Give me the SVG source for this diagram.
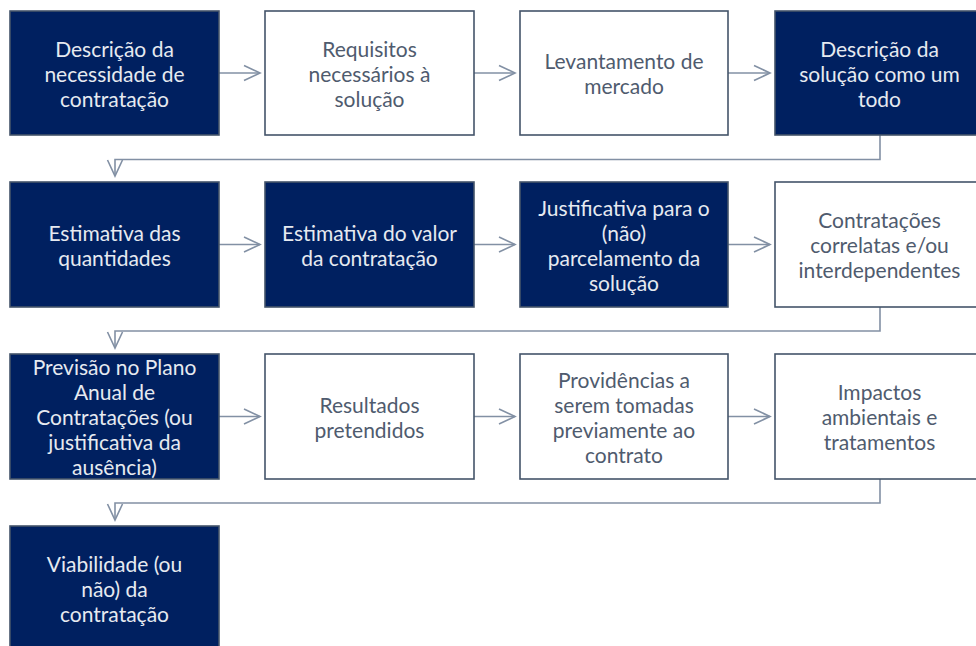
<svg xmlns="http://www.w3.org/2000/svg" width="976" height="646" viewBox="0 0 976 646">
<style>
.d rect{fill:#002060;stroke:#44546A;stroke-width:1.6}
.w rect{fill:#ffffff;stroke:#44546A;stroke-width:1.6}
text{font-family:Lato,"Liberation Sans",sans-serif;font-size:21px;text-anchor:middle;dominant-baseline:central}
.d text{fill:#E6EAF0}
.w text{fill:#4F5B6E}
.c path{fill:none;stroke:#8290A4;stroke-width:1.6;marker-end:url(#a)}
</style>
<defs>
<marker id="a" viewBox="0 0 20 20" refX="18" refY="10" markerWidth="20" markerHeight="20" markerUnits="userSpaceOnUse" orient="auto">
<path d="M2,2.5 L18,10 L2,17.5" fill="none" stroke="#8290A4" stroke-width="1.6"/>
</marker>
</defs>
<rect width="976" height="646" fill="#ffffff"/>
<g class="c" id="connectors">
<path d="M219,73 H260"/>
<path d="M474,73 H515"/>
<path d="M728,73 H770"/>
<path d="M880,135 V159.5 H115 V176"/>
<path d="M219,244.5 H260"/>
<path d="M474,244.5 H515"/>
<path d="M728,244.5 H770"/>
<path d="M880,307 V331 H115 V348"/>
<path d="M219,416.5 H260"/>
<path d="M474,416.5 H515"/>
<path d="M728,416.5 H770"/>
<path d="M880,479 V503 H115 V520"/>
</g>
<g id="n1" class="d"><rect x="10" y="11" width="209" height="124"/><text x="114.5" y="48">Descrição da</text><text x="114.5" y="73">necessidade de</text><text x="114.5" y="98">contratação</text></g>
<g id="n2" class="w"><rect x="265" y="11" width="209" height="124"/><text x="369.5" y="48">Requisitos</text><text x="369.5" y="73">necessários à</text><text x="369.5" y="98">solução</text></g>
<g id="n3" class="w"><rect x="520" y="11" width="208" height="124"/><text x="624" y="60.5">Levantamento de</text><text x="624" y="85.5">mercado</text></g>
<g id="n4" class="d"><rect x="775" y="11" width="209" height="124"/><text x="879.5" y="48">Descrição da</text><text x="879.5" y="73">solução como um</text><text x="879.5" y="98">todo</text></g>
<g id="n5" class="d"><rect x="10" y="182" width="209" height="125"/><text x="114.5" y="232">Estimativa das</text><text x="114.5" y="257">quantidades</text></g>
<g id="n6" class="d"><rect x="265" y="182" width="209" height="125"/><text x="369.5" y="232">Estimativa do valor</text><text x="369.5" y="257">da contratação</text></g>
<g id="n7" class="d"><rect x="520" y="182" width="208" height="125"/><text x="624" y="207">Justificativa para o</text><text x="624" y="232">(não)</text><text x="624" y="257">parcelamento da</text><text x="624" y="282">solução</text></g>
<g id="n8" class="w"><rect x="775" y="182" width="209" height="125"/><text x="879.5" y="219.5">Contratações</text><text x="879.5" y="244.5">correlatas e/ou</text><text x="879.5" y="269.5">interdependentes</text></g>
<g id="n9" class="d"><rect x="10" y="354" width="209" height="125"/><text x="114.5" y="366.5">Previsão no Plano</text><text x="114.5" y="391.5">Anual de</text><text x="114.5" y="416.5">Contratações (ou</text><text x="114.5" y="441.5">justificativa da</text><text x="114.5" y="466.5">ausência)</text></g>
<g id="n10" class="w"><rect x="265" y="354" width="209" height="125"/><text x="369.5" y="404">Resultados</text><text x="369.5" y="429">pretendidos</text></g>
<g id="n11" class="w"><rect x="520" y="354" width="208" height="125"/><text x="624" y="379">Providências a</text><text x="624" y="404">serem tomadas</text><text x="624" y="429">previamente ao</text><text x="624" y="454">contrato</text></g>
<g id="n12" class="w"><rect x="775" y="354" width="209" height="125"/><text x="879.5" y="391.5">Impactos</text><text x="879.5" y="416.5">ambientais e</text><text x="879.5" y="441.5">tratamentos</text></g>
<g id="n13" class="d"><rect x="10" y="526" width="209" height="125"/><text x="114.5" y="563.5">Viabilidade (ou</text><text x="114.5" y="588.5">não) da</text><text x="114.5" y="613.5">contratação</text></g>
</svg>
